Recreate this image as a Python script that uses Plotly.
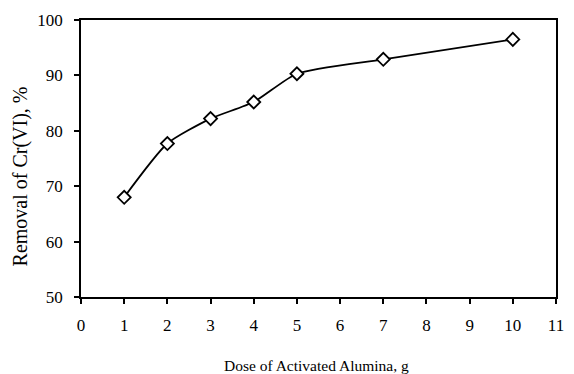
import plotly.graph_objects as go

dose = [1, 2, 3, 4, 5, 7, 10]
removal = [68.0, 77.7, 82.2, 85.2, 90.3, 92.9, 96.5]
x_ticks = list(range(0, 12))
y_ticks = [50, 60, 70, 80, 90, 100]

FONT = "Liberation Serif"

fig = go.Figure()
fig.add_trace(go.Scatter(
    x=dose, y=removal, mode="lines+markers",
    line=dict(color="black", width=1.8, shape="spline", smoothing=0.6),
    marker=dict(symbol="diamond", size=10, color="white",
                line=dict(color="black", width=1.8)),
    showlegend=False,
))

fig.update_layout(
    width=574, height=374,
    margin=dict(l=81, r=10, t=20, b=77),
    paper_bgcolor="white", plot_bgcolor="white",
    font=dict(family=FONT, color="black", size=16),
    xaxis=dict(range=[0, 11], tickvals=x_ticks, showgrid=False, zeroline=False,
               showline=True, linecolor="black", linewidth=1.8, mirror=True,
               ticks="outside", ticklen=5, tickwidth=1.5, tickcolor="black",
               ticklabelstandoff=7, tickfont=dict(family=FONT, size=17)),
    yaxis=dict(range=[50, 100], tickvals=y_ticks, showgrid=False, zeroline=False,
               showline=True, linecolor="black", linewidth=1.8, mirror=True,
               ticks="outside", ticklen=5, tickwidth=1.5, tickcolor="black",
               ticklabelstandoff=8, tickfont=dict(family=FONT, size=17)),
    annotations=[
        dict(text="Removal of Cr(VI), %", textangle=-90, showarrow=False,
             xref="paper", yref="paper", x=-0.128, y=0.436,
             xanchor="center", yanchor="middle",
             font=dict(family=FONT, size=20, color="black")),
        dict(text="Dose of Activated Alumina, g", showarrow=False,
             xref="paper", yref="paper", x=0.495, y=-0.246,
             xanchor="center", yanchor="middle",
             font=dict(family=FONT, size=15.5, color="black")),
    ],
)

fig.write_html("out.html")
